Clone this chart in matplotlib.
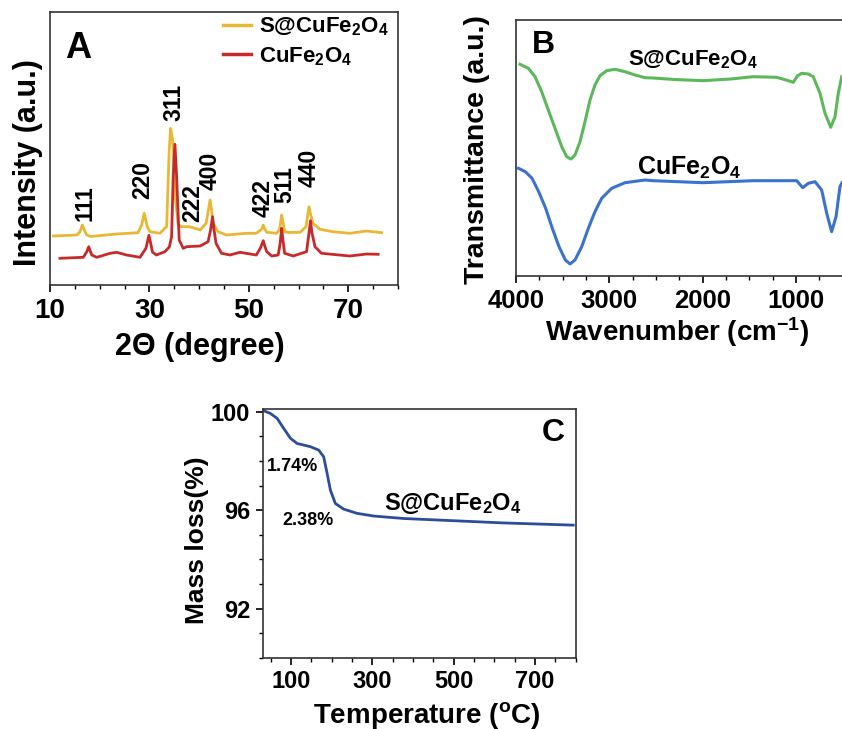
import matplotlib
matplotlib.use('Agg')
import matplotlib.pyplot as plt
from matplotlib.ticker import MultipleLocator, FixedLocator

plt.rcParams['font.family'] = ['Liberation Sans', 'DejaVu Sans']
plt.rcParams['font.weight'] = 'bold'
plt.rcParams['axes.labelweight'] = 'bold'
plt.rcParams['mathtext.fontset'] = 'custom'
plt.rcParams['mathtext.bf'] = 'Liberation Sans:bold'
plt.rcParams['mathtext.rm'] = 'Liberation Sans:bold'
plt.rcParams['mathtext.default'] = 'bf'

# ---- XRD (panel A) ----
xrd_s_2theta = [10.7, 15.4, 16.0, 16.5, 16.9, 17.4, 18.2, 23.4, 27.7, 28.43, 28.95, 29.3, 29.56, 30.1,
                32.1, 33.1, 33.46, 33.98, 34.26, 34.66, 35.13, 35.79, 36.47, 38.1, 40.2, 41.4,
                41.9, 42.2, 42.5, 42.8, 43.8, 45.5, 49.5, 51.5, 52.6, 52.9, 53.2, 53.6, 55.6, 56.2,
                56.6, 56.9, 57.2, 58.0, 60.3, 61.5, 61.85, 62.1, 62.45, 62.9, 64.3, 66.9, 70.3,
                73.7, 76.7]
xrd_s_int = [49, 50, 53, 60, 55, 50, 48.5, 51, 52.3, 60, 71.7, 64, 58.3, 53.3,
             51.7, 56.7, 58.3, 135, 156.7, 145, 91.7, 60, 58.3, 58.3, 55, 61.7,
             76, 85, 75, 61.7, 53.3, 50, 51.7, 51.7, 56, 60, 56, 52.7, 51.7, 56,
             70, 62, 53.3, 52.5, 52.7, 58.3, 70, 78.3, 70, 61.7, 55.7, 53.3, 51.7,
             54, 52.3]

xrd_c_2theta = [12.0, 16.7, 17.4, 17.8, 18.1, 18.4, 19.4, 22.1, 23.4, 25.4, 28.1, 29.3, 29.9, 30.2,
                30.6, 31.4, 33.1, 34.0, 34.46, 34.78, 35.13, 35.47, 35.99, 36.79, 37.5, 40.2,
                41.8, 42.3, 42.7, 43.0, 43.4, 44.5, 46.2, 48.2, 51.5, 52.3, 52.9, 53.2, 53.6,
                54.6, 55.9, 56.3, 56.6, 56.85, 57.2, 58.9, 61.6, 62.1, 62.4, 62.7, 63.3, 64.6,
                70.3, 73.7, 76.0]
xrd_c_int = [26.7, 27.7, 33.3, 38.3, 34, 30, 27.7, 31.7, 32.7, 30, 27.7, 36.7, 49.7, 43,
             33, 30, 33.3, 38, 48.3, 108.3, 140.7, 108.3, 45, 36.7, 38.3, 39,
             43.3, 55, 68.3, 55, 41.7, 31.7, 30, 32.7, 30, 36.7, 44.3, 39, 33.3,
             29, 30, 42, 56.7, 45, 31.7, 29, 33.3, 52, 64.3, 52, 38.3, 31.7,
             29, 31, 30.7]

hkl_labels = ['111', '220', '311', '222', '400', '422', '511', '440']
hkl_x = [17.0, 28.75, 34.9, 38.7, 42.3, 52.9, 57.2, 62.1]
hkl_y = [82, 105, 183, 82, 114, 87, 100, 117]

# ---- FTIR (panel B) ----
ftir_s_wn = [3957, 3868, 3796, 3725, 3654, 3582, 3510, 3457, 3411, 3368, 3314, 3261, 3207, 3154,
             3100, 3028, 2939, 2832, 2725, 2618, 2532, 2300, 1996, 1700, 1461, 1207, 1082, 1029,
             986, 939, 868, 815, 743, 689, 628, 582, 547, 510]
ftir_s_t = [211.7, 207.7, 199.3, 184.3, 166, 147.7, 129.3, 119.3, 117, 121, 134.3, 154.3, 176, 191,
            200.3, 205.3, 206.7, 204.3, 201, 198.3, 198, 196.5, 195.3, 197, 199.3, 198.7, 195.3, 193.7,
            200, 202.7, 202, 199.3, 182.7, 162.7, 148.7, 159.3, 182.7, 199.3]

ftir_c_wn = [3975, 3900, 3828, 3757, 3682, 3611, 3539, 3471, 3421, 3368, 3296, 3225, 3154, 3082,
             2975, 2832, 2618, 2532, 1996, 1461, 992, 928, 868, 796, 725, 671, 618, 571, 529, 507]
ftir_c_t = [107.7, 104.3, 97.7, 84.3, 67.7, 47.7, 29.3, 16, 12, 16, 29.3, 47.7, 64.3, 77.7,
            87.7, 93.3, 96, 95.3, 93.3, 95.3, 95.3, 88.3, 92.7, 94.3, 86, 62.7, 44.3, 59.3, 89.3, 93.3]

# ---- TGA (panel C) ----
tga_temp = [32.7, 49, 65.6, 81.8, 98.3, 114.7, 147.4, 167.8, 180, 188.5, 196.6, 208.8, 229.3,
            262, 303, 376.7, 499.5, 622, 794]
tga_mass = [100.04, 99.93, 99.73, 99.32, 98.92, 98.71, 98.58, 98.44, 98.17, 97.49, 96.81, 96.27,
            96.04, 95.87, 95.76, 95.66, 95.57, 95.48, 95.39]

yellow = '#E9B733'
red = '#C62A2A'
green = '#5CB85A'
blue = '#3A72CC'
navy = '#2D4D9A'
spine_c = '#333333'

fig = plt.figure(figsize=(8.42, 7.29), dpi=100)


def style(ax, lw=1.2):
    for s in ax.spines.values():
        s.set_color(spine_c)
        s.set_linewidth(lw)


# Panel A
ax1 = fig.add_axes([50 / 842, 1 - 285 / 729, 348 / 842, 273 / 729])
ax1.plot(xrd_s_2theta, xrd_s_int, color=yellow, lw=2, label=r'S@CuFe$_2$O$_4$')
ax1.plot(xrd_c_2theta, xrd_c_int, color=red, lw=2, label=r'CuFe$_2$O$_4$')
for lab, x, y in zip(hkl_labels, hkl_x, hkl_y):
    ax1.text(x, y, lab, rotation=90, ha='center', va='center', fontsize=16.5)
ax1.text(15.6, 237, 'A', ha='center', va='center', fontsize=26)
ax1.set_xlim(10, 80)
ax1.set_ylim(0, 273)
ax1.xaxis.set_major_locator(FixedLocator([10, 30, 50, 70]))
ax1.xaxis.set_minor_locator(MultipleLocator(5))
ax1.set_yticks([])
ax1.tick_params(axis='x', which='major', direction='out', length=5, width=1.2, labelsize=20, pad=4)
ax1.tick_params(axis='x', which='minor', direction='out', length=3, width=1)
ax1.set_xlabel('2Θ (degree)', fontsize=22, va='center')
ax1.xaxis.set_label_coords(0.431, -0.227)
ax1.set_ylabel('Intensity (a.u.)', fontsize=22, va='center')
ax1.yaxis.set_label_coords(-0.063, 0.447)
leg = ax1.legend(loc='upper left', bbox_to_anchor=(0.496, 0.985), frameon=False, fontsize=16,
                 handlelength=1.3, handletextpad=0.35, labelspacing=0.3, borderpad=0, borderaxespad=0)
for h in leg.get_lines():
    h.set_linewidth(2.5)
style(ax1)

# Panel B (runs past the right edge, as in the picture)
ax2 = fig.add_axes([516 / 842, 1 - 276 / 729, 336 / 842, 256 / 729])
ax2.plot(ftir_s_wn, ftir_s_t, color=green, lw=2.2)
ax2.plot(ftir_c_wn, ftir_c_t, color=blue, lw=2.2)
ax2.text(3711, 231, 'B', ha='center', va='center', fontsize=23)
ax2.text(2104, 216, r'S@CuFe$_2$O$_4$', ha='center', va='center', fontsize=16)
ax2.text(2146, 108, r'CuFe$_2$O$_4$', ha='center', va='center', fontsize=18)
ax2.set_xlim(4000, 400)
ax2.set_ylim(0, 256)
ax2.xaxis.set_major_locator(FixedLocator([4000, 3000, 2000, 1000]))
ax2.xaxis.set_minor_locator(MultipleLocator(250))
ax2.set_yticks([])
ax2.tick_params(axis='x', which='major', direction='out', length=5, width=1.2, labelsize=18.5, pad=4)
ax2.tick_params(axis='x', which='minor', direction='out', length=3, width=1)
ax2.set_xlabel(r'Wavenumber (cm$^{-1}$)', fontsize=20, va='center')
ax2.xaxis.set_label_coords(0.479, -0.219)
ax2.set_ylabel('Transmittance (a.u.)', fontsize=20.5, va='center')
ax2.yaxis.set_label_coords(-0.116, 0.492)
style(ax2)

# Panel C
ax3 = fig.add_axes([262.7 / 842, 1 - 657.7 / 729, 313 / 842, 248.4 / 729])
ax3.plot(tga_temp, tga_mass, color=navy, lw=2)
ax3.text(744.5, 99.13, 'C', ha='center', va='center', fontsize=23)
ax3.text(102.5, 97.79, '1.74%', ha='center', va='center', fontsize=13)
ax3.text(142.5, 95.59, '2.38%', ha='center', va='center', fontsize=13)
ax3.text(498.8, 96.29, r'S@CuFe$_2$O$_4$', ha='center', va='center', fontsize=17)
ax3.set_xlim(30, 800)
ax3.set_ylim(90, 100.1)
ax3.xaxis.set_major_locator(FixedLocator([100, 300, 500, 700]))
ax3.xaxis.set_minor_locator(MultipleLocator(50))
ax3.yaxis.set_major_locator(FixedLocator([92, 96, 100]))
ax3.yaxis.set_minor_locator(MultipleLocator(1))
ax3.tick_params(which='major', direction='out', length=5, width=1.2, labelsize=17, pad=4)
ax3.tick_params(which='minor', direction='out', length=3, width=1)
ax3.set_xlabel(r'Temperature ($^{o}$C)', fontsize=20, va='center')
ax3.xaxis.set_label_coords(0.524, -0.231)
ax3.set_ylabel('Mass loss(%)', fontsize=19, va='center')
ax3.yaxis.set_label_coords(-0.211, 0.474)
style(ax3)

fig.savefig('out.png', dpi=100)
